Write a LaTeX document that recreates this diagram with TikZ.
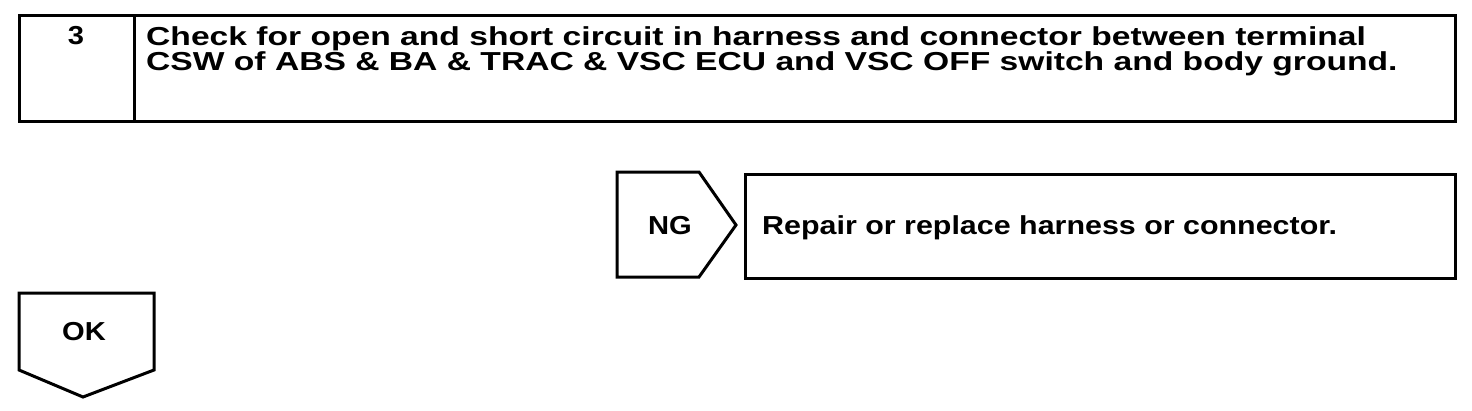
\documentclass[tikz,border=0pt]{standalone}
\usepackage{fontspec}
\setmainfont{Liberation Sans}
\newfontfamily\stepfont[FakeStretch=1.293]{Liberation Sans}
\newfontfamily\resultfont[FakeStretch=1.17]{Liberation Sans}
\newfontfamily\tagfont[FakeStretch=1.12]{Liberation Sans}

\begin{document}
\begin{tikzpicture}[x=1pt, y=-1pt,
  frame/.style={draw, line width=3pt, line join=miter},
  steptxt/.style={font=\stepfont\bfseries\fontsize{26}{25}\selectfont, inner sep=0pt, anchor=base west},
  restxt/.style={font=\resultfont\bfseries\fontsize{26}{25}\selectfont, inner sep=0pt, anchor=base west},
  tag/.style={font=\tagfont\bfseries\fontsize{26}{25}\selectfont, inner sep=0pt, anchor=base}]
  \useasboundingbox (0,0) rectangle (1472,410);

  % Step box
  \draw[frame] (19,15) rectangle (1455,121);
  \draw[frame] (134,15) -- (134,121);
  \node[tag] (num) at (76,44) {3};
  \node[steptxt] (check1) at (146,45) {Check for open and short circuit in harness and connector between terminal};
  \node[steptxt] (check2) at (146,70) {CSW of ABS \& BA \& TRAC \& VSC ECU and VSC OFF switch and body ground.};

  % NG branch
  \draw[frame] (617,172) -- (699,172) -- (736,225) -- (699,277) -- (617,277) -- cycle;
  \node[tag] (ng) at (670,234.5) {NG};
  \draw[frame] (745,174) rectangle (1455,278);
  \node[restxt] (repair) at (762,234.5) {Repair or replace harness or connector.};

  % OK branch
  \draw[frame] (19,293) -- (154,293) -- (154,370) -- (83,397) -- (19,370) -- cycle;
  \node[tag] (ok) at (84,340) {OK};
\end{tikzpicture}
\end{document}
